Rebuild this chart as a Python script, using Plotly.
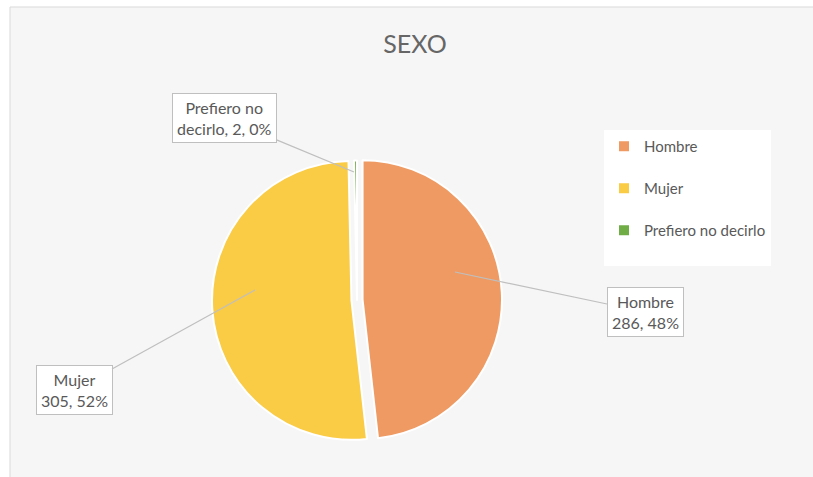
import plotly.graph_objects as go

categories = ["Hombre", "Mujer", "Prefiero no decirlo"]
counts = [286, 305, 2]
percents = ["48%", "52%", "0%"]
colors = ["#EE9A62", "#FACB45", "#70AD47"]

W, H = 813, 477
ML, MT = 10, 7
PW, PH = W - ML, H - MT


def px(x):
    return (x - ML) / PW


def py(y):
    return (H - y) / PH


legend_labels = [f"{c}<br> " for c in categories]

fig = go.Figure()
fig.add_trace(go.Pie(
    labels=legend_labels,
    values=counts,
    customdata=categories,
    sort=False,
    direction="clockwise",
    rotation=0,
    marker=dict(colors=colors, line=dict(color="white", width=2)),
    pull=[0.04, 0.04, 0.0],
    textinfo="none",
    hovertemplate="%{customdata}: %{value} (%{percent})<extra></extra>",
    domain=dict(x=[px(212), px(502)], y=[py(445), py(155)]),
))

label_text = [f"{c}<br>{n}, {p}" for c, n, p in zip(categories, counts, percents)]
label_text[2] = f"Prefiero no<br>decirlo, {counts[2]}, {percents[2]}"

# (tip x, tip y, box center x, box center y) in pixels
callouts = [
    (455, 272, 645, 312),
    (255, 290, 74, 390),
    (354, 172, 224, 118),
]
for txt, (tx, ty, bx, by) in zip(label_text, callouts):
    fig.add_annotation(
        x=px(tx), y=py(ty), xref="paper", yref="paper",
        ax=bx - tx, ay=by - ty, axref="pixel", ayref="pixel",
        text=txt, showarrow=True, arrowhead=0, arrowwidth=1.2,
        arrowcolor="#BFBFBF",
        bgcolor="white", bordercolor="#BFBFBF", borderwidth=1, borderpad=4,
        font=dict(family="Lato, Open Sans, sans-serif", size=16, color="#595959"),
        align="center",
    )

fig.add_shape(type="rect", xref="paper", yref="paper", x0=0, y0=-0.02, x1=1.02, y1=1,
              line=dict(color="#D9D9D9", width=1), fillcolor="#F6F6F6", layer="below")

fig.update_layout(
    width=W, height=H,
    margin=dict(l=ML, r=0, t=MT, b=0),
    paper_bgcolor="white",
    title=dict(text="SEXO", x=415 / W, xanchor="center", y=1 - 44 / H, yanchor="middle",
               font=dict(family="Lato, Open Sans, sans-serif", size=25, color="#666666")),
    showlegend=True,
    legend=dict(x=px(604), y=py(130), xanchor="left", yanchor="top",
                bgcolor="white", borderwidth=0, valign="top",
                font=dict(family="Lato, Open Sans, sans-serif", size=15, color="#595959"),
                itemwidth=30),
)

fig.write_html("out.html", config={"displayModeBar": False},
               post_script="document.body.style.margin='0';")
